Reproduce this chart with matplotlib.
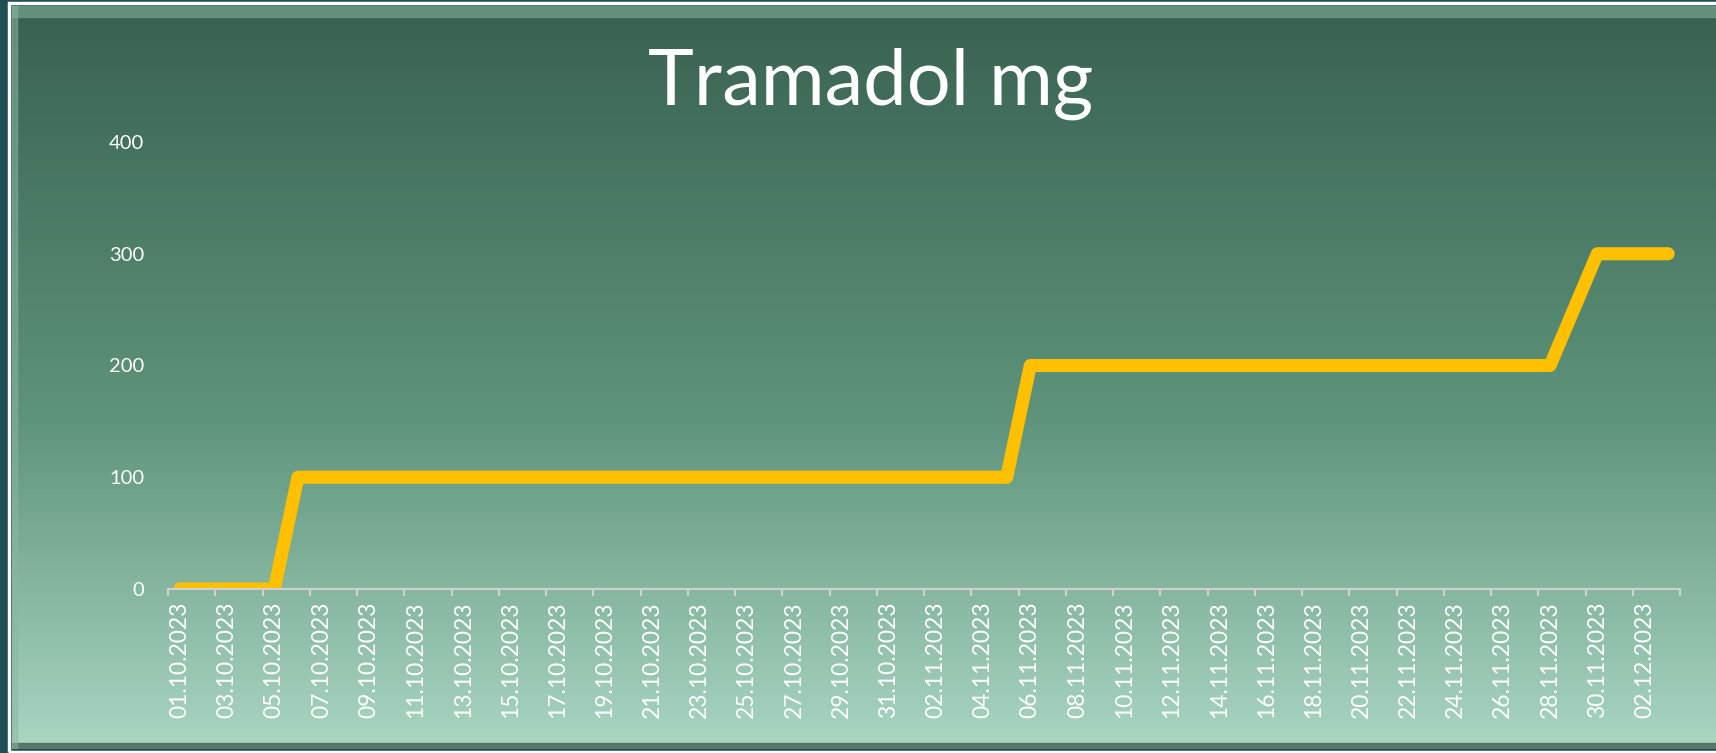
import numpy as np
import matplotlib.pyplot as plt
from matplotlib.colors import LinearSegmentedColormap
from matplotlib.patches import Rectangle
import datetime as dt

plt.rcParams['font.family'] = ['Lato', 'DejaVu Sans']

# данные: одна точка в день, 01.10.2023 - 03.12.2023
start = dt.date(2023, 10, 1)
dates = [(start + dt.timedelta(days=i)).strftime('%d.%m.%Y') for i in range(64)]
dose = [0] * 5 + [100] * 31 + [200] * 23 + [250] + [300] * 4
y_ticks = [0, 100, 200, 300, 400]

W, H = 1716, 753
fig = plt.figure(figsize=(W / 100, H / 100), dpi=100)
fig.patch.set_facecolor('#1f4f55')

# фон с градиентом
bg = fig.add_axes([12 / W, 1 - 749 / H, 1 - 12 / W, (749 - 6) / H])
bg.set_axis_off()
cmap = LinearSegmentedColormap.from_list(
    'g', [(0, '#386250'), (0.55, '#5e937b'), (1, '#aad6c2')])
grad = np.linspace(0, 1, 256).reshape(-1, 1)
bg.imshow(grad, aspect='auto', cmap=cmap, extent=[0, 1, 0, 1], origin='upper')
bg.add_patch(Rectangle((0, 0.985), 1, 0.015, color='#6e9c85', alpha=0.8))
bg.add_patch(Rectangle((0, 0), 1, 0.008, color='#52705f', alpha=0.9))
bg.add_patch(Rectangle((0, 0), 0.003, 1, color='#8bb7a2', alpha=0.5))
bg.set_xlim(0, 1)
bg.set_ylim(0, 1)

# белая рамка
fig.patches.append(Rectangle((9 / W, 1 - 752 / H), 1, (752 - 3) / H,
                             transform=fig.transFigure, fill=False,
                             edgecolor='white', linewidth=2.5, zorder=5))

ax = fig.add_axes([168 / W, 1 - 589 / H, (1680 - 168) / W, (589 - 142) / H])
ax.patch.set_alpha(0)
x = np.arange(len(dates))
ax.plot(x, dose, color='#ffc000', linewidth=9.4,
        solid_capstyle='round', solid_joinstyle='round')

ax.set_xlim(-0.5, len(dates) - 0.5)
ax.set_ylim(0, 400)
ax.set_yticks(y_ticks)
ax.tick_params(axis='y', length=0, pad=17, labelsize=14.5, labelcolor='white')

ax.set_xticks(x[::2])
ax.set_xticklabels(dates[::2], rotation=90)
ax.set_xticks(np.arange(-0.5, len(dates), 2), minor=True)
ax.tick_params(axis='x', which='major', length=0, pad=9,
               labelsize=16.5, labelcolor='white')
ax.tick_params(axis='x', which='minor', length=5, width=1.5, color='#d0d0d0')

for s in ['top', 'right', 'left']:
    ax.spines[s].set_visible(False)
ax.spines['bottom'].set_color('#d0d0d0')
ax.spines['bottom'].set_linewidth(1.5)

fig.text(871 / W, 1 - 105 / H, 'Tramadol mg', color='white', fontsize=56,
         ha='center', va='baseline')

fig.savefig('out.png', dpi=100, facecolor=fig.get_facecolor())
